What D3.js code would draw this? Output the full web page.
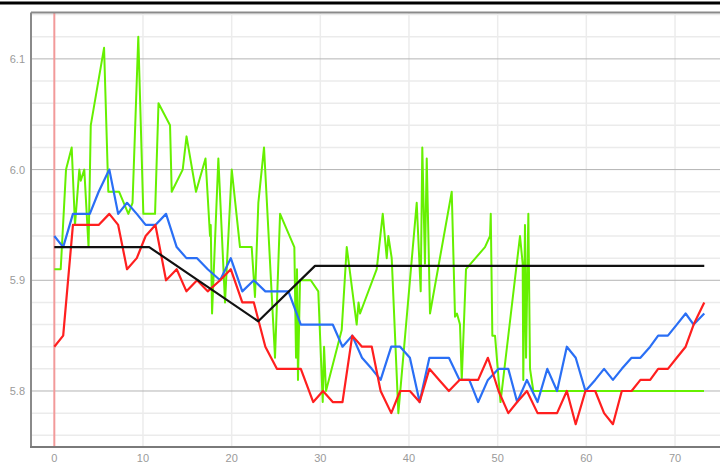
<!DOCTYPE html>
<html>
<head>
<meta charset="utf-8">
<script src="https://cdn.jsdelivr.net/npm/d3@7"></script>
<style>
html,body{margin:0;padding:0;background:#fff;overflow:hidden;}
svg{display:block;}
.tick-label{font-family:'Liberation Sans Narrow','Liberation Sans',Arial,sans-serif;font-size:11px;fill:#9a9a9a;}
</style>
</head>
<body>
<svg id="chart" width="720" height="466"></svg>
<script>
// ---- data ----
const sampleX = [0,1.0,2.1,3.1,4.0,5.0,6.2,7.2,8.2,9.3,10.3,11.4,12.6,13.8,14.9,16.1,17.3,18.7,19.9,21.2,22.5,23.8,25.1,26.4,27.8,29.2,30.3,31.4,32.5,33.6,34.7,35.8,36.8,38.0,39.0,40.1,41.2,42.3,43.4,44.5,45.7,46.8,47.8,48.9,50.1,51.2,52.2,53.3,54.5,55.6,56.7,57.8,58.8,59.9,61.0,62.0,63.0,64.0,65.1,66.1,67.2,68.1,69.2,70.2,71.2,72.1,73.3];
const blueValues = [5.94,5.93,5.96,5.96,5.96,5.98,6.00,5.96,5.97,5.96,5.95,5.95,5.96,5.93,5.92,5.92,5.91,5.90,5.92,5.89,5.90,5.89,5.89,5.89,5.86,5.86,5.86,5.86,5.84,5.85,5.83,5.82,5.81,5.84,5.84,5.83,5.79,5.83,5.83,5.83,5.81,5.81,5.79,5.81,5.82,5.82,5.79,5.81,5.79,5.82,5.80,5.84,5.83,5.80,5.81,5.82,5.81,5.82,5.83,5.83,5.84,5.85,5.85,5.86,5.87,5.86,5.87];
const redValues = [5.84,5.85,5.95,5.95,5.95,5.95,5.96,5.95,5.91,5.92,5.94,5.95,5.90,5.91,5.89,5.90,5.89,5.90,5.91,5.88,5.88,5.84,5.82,5.82,5.82,5.79,5.80,5.79,5.79,5.85,5.84,5.84,5.80,5.78,5.80,5.80,5.79,5.82,5.81,5.80,5.81,5.81,5.81,5.83,5.80,5.78,5.79,5.80,5.78,5.78,5.78,5.80,5.77,5.80,5.80,5.78,5.77,5.80,5.80,5.81,5.81,5.82,5.82,5.83,5.84,5.86,5.88];
const greenX = [0.00,0.72,1.32,1.96,2.33,2.82,2.98,3.38,3.86,4.11,5.61,6.09,7.30,8.35,8.82,9.47,10.04,11.36,11.75,13.05,13.24,14.48,14.91,15.98,17.05,17.56,17.64,17.79,18.50,19.25,20.01,20.94,22.26,22.63,23.01,23.65,24.89,25.46,27.07,27.26,27.37,27.48,27.71,28.92,29.77,30.27,30.42,30.64,32.41,32.98,34.10,34.31,34.48,36.36,37.04,37.49,37.67,38.05,38.80,40.87,41.32,41.50,41.80,42.00,42.37,44.82,45.19,45.41,45.75,45.95,46.43,48.57,49.14,49.22,49.40,49.70,50.32,52.52,52.82,52.89,53.08,53.20,53.46,53.65,54.02,73.27];
const greenValues = [5.91,5.91,6.00,6.02,5.95,6.00,5.99,6.00,5.93,6.04,6.11,5.98,5.98,5.96,5.97,6.12,5.96,5.96,6.06,6.04,5.98,6.00,6.03,5.98,6.01,5.94,5.95,5.87,6.01,5.88,6.00,5.93,5.93,5.885,5.97,6.02,5.83,5.96,5.93,5.83,5.91,5.81,5.90,5.90,5.89,5.79,5.84,5.80,5.855,5.93,5.86,5.88,5.87,5.91,5.96,5.92,5.94,5.92,5.78,5.97,5.89,6.02,5.915,6.01,5.87,5.98,5.867,5.87,5.86,5.81,5.91,5.93,5.94,5.96,5.85,5.85,5.79,5.94,5.915,5.81,5.95,5.83,5.96,5.82,5.80,5.80];
const blackX = [0,10.7,23.0,29.4,73.3];
const blackValues = [5.93,5.93,5.863,5.913,5.913];
const xTicks = [0,10,20,30,40,50,60,70];
const yTicks = [5.8,5.9,6.0,6.1];
const yMinor = [5.76,5.78,5.82,5.84,5.86,5.88,5.92,5.94,5.96,5.98,6.02,6.04,6.06,6.08,6.12,6.14];

// ---- layout ----
const svg = d3.select('#chart');
const L = 31, R = 722, T = 12.5, B = 447;
const x = d3.scaleLinear().domain([-2.63, 75.3]).range([L, R]);
const y = d3.scaleLinear().domain([5.7494, 6.1419]).range([B, T]);

// top black rule
svg.append('line').attr('x1',0).attr('x2',720).attr('y1',3).attr('y2',3)
  .attr('stroke','#000').attr('stroke-width',3);

const g = svg.append('g');
// minor horizontal grid
g.selectAll('.ymin').data(yMinor).enter().append('line')
  .attr('x1',L).attr('x2',R).attr('y1',d=>y(d)).attr('y2',d=>y(d))
  .attr('stroke','#ebebeb').attr('stroke-width',1.5);
// vertical grid
g.selectAll('.xg').data(xTicks.filter(d=>d!==0)).enter().append('line')
  .attr('x1',d=>x(d)).attr('x2',d=>x(d)).attr('y1',T).attr('y2',B)
  .attr('stroke','#ececec').attr('stroke-width',1.5);
// major horizontal grid
g.selectAll('.ymaj').data(yTicks).enter().append('line')
  .attr('x1',L).attr('x2',R).attr('y1',d=>y(d)).attr('y2',d=>y(d))
  .attr('stroke','#b4b4b4').attr('stroke-width',1);

// zero line (light red)
g.append('line').attr('x1',x(0)).attr('x2',x(0)).attr('y1',T).attr('y2',B)
  .attr('stroke','#f29a9a').attr('stroke-width',2);

// frame
svg.append('line').attr('x1',L).attr('x2',R).attr('y1',T).attr('y2',T).attr('stroke','#8a8a8a').attr('stroke-width',2);
svg.append('line').attr('x1',L).attr('x2',L).attr('y1',T).attr('y2',B).attr('stroke','#8a8a8a').attr('stroke-width',2);
svg.append('line').attr('x1',L-1).attr('x2',R).attr('y1',B).attr('y2',B).attr('stroke','#7a7a7a').attr('stroke-width',2);

// tick labels
svg.selectAll('.xl').data(xTicks).enter().append('text').attr('class','tick-label')
  .attr('x',d=>x(d)).attr('y',462).attr('text-anchor','middle').text(d=>d);
svg.selectAll('.yl').data(yTicks).enter().append('text').attr('class','tick-label')
  .attr('x',25).attr('y',d=>y(d)+4).attr('text-anchor','end').text(d=>d.toFixed(1));

// series
const line = d3.line().x(d=>x(d[0])).y(d=>y(d[1]));
function draw(xsArr, vals, color, w){
  svg.append('path').datum(xsArr.map((v,i)=>[v, vals[i]]))
    .attr('d', line).attr('fill','none').attr('stroke',color)
    .attr('stroke-width',w).attr('stroke-linejoin','round');
}
draw(greenX, greenValues, '#66f000', 2);
draw(sampleX, blueValues, '#2a6ff5', 2.2);
draw(sampleX, redValues, '#ff1f1f', 2.2);
draw(blackX, blackValues, '#111', 2.2);
</script>
</body>
</html>
